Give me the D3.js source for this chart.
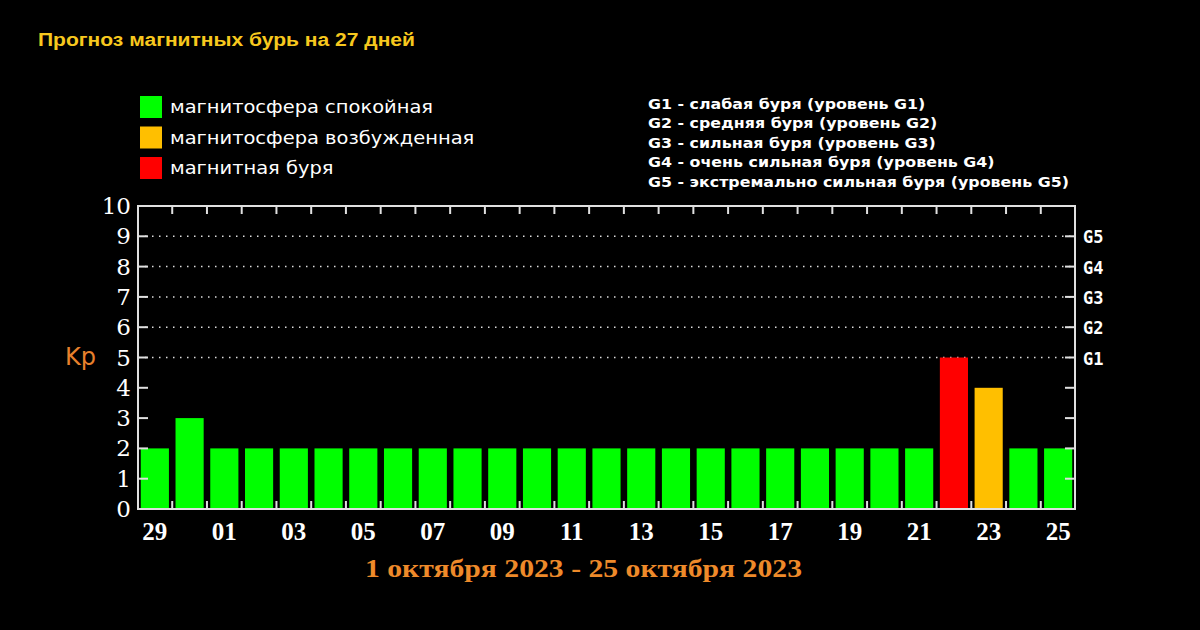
<!DOCTYPE html>
<html><head><meta charset="utf-8">
<script src="https://cdn.jsdelivr.net/npm/d3@7"></script>
<style>html,body{margin:0;padding:0;background:#000;}svg{display:block;}</style>
</head><body>
<script>
const days = ["29","30","01","02","03","04","05","06","07","08","09","10","11","12","13","14","15","16","17","18","19","20","21","22","23","24","25"];
const kp =   [2,3,2,2,2,2,2,2,2,2,2,2,2,2,2,2,2,2,2,2,2,2,2,5,4,2,2];
const levels = ["quiet","quiet","quiet","quiet","quiet","quiet","quiet","quiet","quiet","quiet","quiet","quiet","quiet","quiet","quiet","quiet","quiet","quiet","quiet","quiet","quiet","quiet","quiet","storm","active","quiet","quiet"];
const legendLabels = ["магнитосфера спокойная","магнитосфера возбужденная","магнитная буря"];
const legendKeys = ["quiet","active","storm"];
const gLegend = ["G1 - слабая буря (уровень G1)","G2 - средняя буря (уровень G2)","G3 - сильная буря (уровень G3)","G4 - очень сильная буря (уровень G4)","G5 - экстремально сильная буря (уровень G5)"];
const gLabels = ["G1","G2","G3","G4","G5"];
const gValues = [5,6,7,8,9];
const yTicks = [0,1,2,3,4,5,6,7,8,9,10];
const title = "Прогноз магнитных бурь на 27 дней";
const period = "1 октября 2023 - 25 октября 2023";

const colors = {quiet:"#00ff00", active:"#ffbf00", storm:"#ff0000"};

const W=1200,H=630;
const svg = d3.select("body").append("svg").attr("width",W).attr("height",H).style("background","#000");
const L=138,R=1075,T=206,B=509;

const x = d3.scaleBand().domain(d3.range(days.length)).range([L,R]).paddingInner(0.19).paddingOuter(0.08);
const y = d3.scaleLinear().domain([0,10]).range([B,T]);

// title
svg.append("text").attr("x",38).attr("y",46).text(title)
  .attr("fill","#f7c81e").attr("font-family","Liberation Sans Narrow, Liberation Sans, Arial").attr("font-weight","bold")
  .attr("font-size",18).attr("textLength",377).attr("lengthAdjust","spacingAndGlyphs");

// legend
const legTexts = [];
legendKeys.forEach((k,i)=>{
  const cy = 107 + i*30.5;
  svg.append("rect").attr("x",140).attr("y",cy-11).attr("width",22).attr("height",22).attr("fill",colors[k]);
  legTexts.push(svg.append("text").attr("x",170).attr("y",cy+6).text(legendLabels[i])
    .attr("fill","#fff").attr("font-family","DejaVu Sans, Verdana").attr("font-size",17.5));
});
{
  const k = 263 / legTexts[0].node().getComputedTextLength();
  legTexts.forEach(t=>t.attr("textLength",t.node().getComputedTextLength()*k).attr("lengthAdjust","spacingAndGlyphs"));
}
const gTexts = gLegend.map((t,i)=>svg.append("text").attr("x",648).attr("y",109+i*19.4).text(t)
    .attr("fill","#fff").attr("font-family","DejaVu Sans, Tahoma").attr("font-weight","bold").attr("font-size",14));
{
  const k = 421 / gTexts[4].node().getComputedTextLength();
  gTexts.forEach(t=>t.attr("textLength",t.node().getComputedTextLength()*k).attr("lengthAdjust","spacingAndGlyphs"));
}

// grid dotted
gValues.forEach(v=>{
  svg.append("line").attr("x1",L).attr("x2",R).attr("y1",y(v)).attr("y2",y(v))
    .attr("stroke","#ddd").attr("stroke-width",1.5).attr("stroke-dasharray","1.5,5.5");
});

// bars
svg.selectAll("rect.bar").data(kp).enter().append("rect").attr("class","bar")
  .attr("x",(d,i)=>x(i)).attr("width",x.bandwidth())
  .attr("y",d=>y(d)).attr("height",d=>B-y(d))
  .attr("fill",(d,i)=>colors[levels[i]]);

// frame
svg.append("rect").attr("x",L).attr("y",T).attr("width",R-L).attr("height",B-T)
  .attr("fill","none").attr("stroke","#e0e0e0").attr("stroke-width",2);

// y ticks inward
yTicks.slice(1,10).forEach(v=>{
  svg.append("line").attr("x1",L).attr("x2",L+10).attr("y1",y(v)).attr("y2",y(v)).attr("stroke","#e0e0e0").attr("stroke-width",2);
  svg.append("line").attr("x1",R-10).attr("x2",R).attr("y1",y(v)).attr("y2",y(v)).attr("stroke","#e0e0e0").attr("stroke-width",2);
});
// x ticks inward at band boundaries
d3.range(1,days.length).forEach(i=>{
  const bx = x(i) - x.step()*x.paddingInner()/2;
  svg.append("line").attr("x1",bx).attr("x2",bx).attr("y1",B).attr("y2",B-8).attr("stroke","#e0e0e0").attr("stroke-width",2);
  svg.append("line").attr("x1",bx).attr("x2",bx).attr("y1",T).attr("y2",T+8).attr("stroke","#e0e0e0").attr("stroke-width",2);
});

// y labels
yTicks.forEach(v=>{
  svg.append("text").attr("x",131).attr("y",y(v)+8).attr("text-anchor","end").text(v)
    .attr("fill","#fff").attr("font-family","DejaVu Serif, Liberation Serif").attr("font-size",23);
});
// Kp
svg.append("text").attr("x",65).attr("y",365).text("Kp").attr("fill","#e8802c")
  .attr("font-family","DejaVu Sans").attr("font-size",24);
// G labels
gValues.forEach((v,i)=>{
  svg.append("text").attr("x",1083).attr("y",y(v)+7).text(gLabels[i])
    .attr("fill","#fff").attr("font-family","DejaVu Sans Mono").attr("font-weight","bold").attr("font-size",17);
});
// x labels
days.forEach((d,i)=>{
  if(i%2===0){
    svg.append("text").attr("x",x(i)+x.bandwidth()/2).attr("y",540).attr("text-anchor","middle").text(d)
      .attr("fill","#fff").attr("font-family","Liberation Serif, Times New Roman").attr("font-weight","bold").attr("font-size",25);
  }
});
// period
svg.append("text").attr("x",365).attr("y",577).text(period).attr("fill","#ee8a2a")
  .attr("font-family","Liberation Serif, DejaVu Serif").attr("font-weight","bold").attr("font-size",26)
  .attr("textLength",437).attr("lengthAdjust","spacingAndGlyphs");
</script>
</body></html>
